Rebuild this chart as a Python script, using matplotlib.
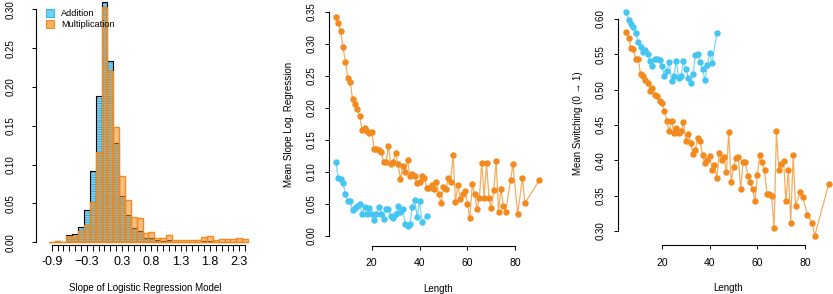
import numpy as np
import matplotlib
matplotlib.use("Agg")
import matplotlib.pyplot as plt
from matplotlib.lines import Line2D

BLUE = "#45c6f2"
ORANGE = "#f28a1e"

# histogram: slope of logistic regression model
hist_bins = [-0.9, -0.8, -0.7, -0.6, -0.5, -0.4, -0.3, -0.2, -0.1, 0.0,
             0.1, 0.2, 0.3, 0.4, 0.5, 0.6, 0.7, 0.8, 0.9, 1.0,
             1.1, 1.2, 1.3, 1.4, 1.5, 1.6, 1.7, 1.8, 1.9, 2.0,
             2.1, 2.2, 2.3, 2.4]
hist_addition = [0.001, 0.002, 0.001, 0.009, 0.011, 0.020, 0.041, 0.092, 0.189, 0.309,
                 0.233, 0.128, 0.060, 0.035, 0.018, 0.015, 0.006, 0.006, 0.003, 0.002,
                 0.003, 0.001, 0.001, 0.001, 0.001, 0.001, 0.002, 0.002, 0.001, 0.001,
                 0.001, 0.001, 0.001, 0.000]
hist_multiplication = [0.001, 0.002, 0.001, 0.008, 0.008, 0.014, 0.022, 0.052, 0.116, 0.303,
                       0.221, 0.149, 0.085, 0.054, 0.032, 0.031, 0.012, 0.013, 0.006, 0.005,
                       0.010, 0.003, 0.003, 0.003, 0.003, 0.003, 0.007, 0.008, 0.003, 0.004,
                       0.004, 0.004, 0.005, 0.004]
hist_labels = {-0.9: "-0.9", -0.3: "\u22120.3", 0.3: "0.3", 0.8: "0.8",
               1.3: "1.3", 1.8: "1.8", 2.3: "2.3"}

# lengths
len_add = list(range(5, 42)) + [43]
len_mult = list(range(5, 77)) + [78, 79, 81, 83, 84, 90]

slope_add = [0.116, 0.091, 0.089, 0.083, 0.065, 0.055, 0.055, 0.040, 0.043, 0.047,
             0.050, 0.034, 0.045, 0.034, 0.043, 0.034, 0.025, 0.034, 0.045, 0.035,
             0.027, 0.042, 0.042, 0.031, 0.028, 0.034, 0.047, 0.037, 0.042, 0.019,
             0.016, 0.019, 0.046, 0.056, 0.030, 0.054, 0.022, 0.031]
slope_mult = [0.342, 0.333, 0.320, 0.295, 0.272, 0.247, 0.240, 0.214, 0.206, 0.198,
              0.187, 0.165, 0.168, 0.164, 0.160, 0.163, 0.136, 0.135, 0.134, 0.131,
              0.115, 0.115, 0.140, 0.113, 0.116, 0.129, 0.113, 0.089, 0.109, 0.100,
              0.118, 0.093, 0.097, 0.093, 0.082, 0.085, 0.093, 0.090, 0.075, 0.075,
              0.079, 0.074, 0.085, 0.066, 0.051, 0.076, 0.073, 0.090, 0.085, 0.127,
              0.053, 0.080, 0.058, 0.065, 0.070, 0.050, 0.028, 0.081, 0.065, 0.042,
              0.060, 0.114, 0.060, 0.114, 0.060, 0.044, 0.071, 0.117, 0.038, 0.074,
              0.047, 0.038, 0.087, 0.112, 0.034, 0.091, 0.051, 0.087]

switch_add = [0.610, 0.598, 0.593, 0.588, 0.580, 0.568, 0.560, 0.553, 0.556, 0.550,
              0.540, 0.533, 0.543, 0.543, 0.542, 0.533, 0.519, 0.527, 0.539, 0.512,
              0.520, 0.541, 0.516, 0.520, 0.540, 0.529, 0.517, 0.509, 0.522, 0.549,
              0.551, 0.539, 0.529, 0.513, 0.535, 0.552, 0.538, 0.580]
switch_mult = [0.581, 0.573, 0.559, 0.558, 0.543, 0.543, 0.522, 0.520, 0.514, 0.510,
               0.498, 0.502, 0.493, 0.491, 0.484, 0.481, 0.470, 0.456, 0.441, 0.456,
               0.438, 0.446, 0.438, 0.441, 0.454, 0.428, 0.437, 0.425, 0.409, 0.415,
               0.432, 0.428, 0.407, 0.396, 0.401, 0.406, 0.387, 0.393, 0.375, 0.410,
               0.400, 0.404, 0.383, 0.440, 0.370, 0.390, 0.403, 0.405, 0.360, 0.397,
               0.398, 0.378, 0.370, 0.359, 0.343, 0.379, 0.407, 0.398, 0.386, 0.353,
               0.352, 0.350, 0.304, 0.441, 0.386, 0.395, 0.399, 0.342, 0.386, 0.312,
               0.408, 0.336, 0.355, 0.348, 0.323, 0.311, 0.293, 0.367]

plt.rcParams["font.family"] = ["Liberation Sans", "DejaVu Sans"]
plt.rcParams["hatch.linewidth"] = 0.6

W, H = 833, 294
fig = plt.figure(figsize=(W / 100, H / 100), dpi=100)


def px_axes(left, top, right, bottom):
    return fig.add_axes([left / W, 1 - bottom / H, (right - left) / W, (bottom - top) / H])


def r_style(ax, xb, yb):
    for s in ("top", "right"):
        ax.spines[s].set_visible(False)
    ax.spines["left"].set_bounds(*yb)
    ax.spines["bottom"].set_bounds(*xb)
    for s in ("left", "bottom"):
        ax.spines[s].set_linewidth(0.8)
    ax.tick_params(length=3, width=0.7)
    ax.patch.set_visible(False)


# ---- histogram ----
ax1 = px_axes(36, 0, 255, 245)
ax1.set_xlim(-1.168, 2.569)
ax1.set_ylim(-0.0035, 0.312)
ax1.bar(hist_bins, hist_addition, width=0.1, color="#86d5f4", edgecolor="#2aa3d8",
        hatch="-------", linewidth=0, zorder=2)
ax1.bar(hist_bins, hist_addition, width=0.1, fill=False, edgecolor="black",
        linewidth=0.8, zorder=3)
ax1.bar(hist_bins, hist_multiplication, width=0.1, color=ORANGE, alpha=0.55,
        linewidth=0, zorder=4)
ax1.bar(hist_bins, hist_multiplication, width=0.1, fill=False, edgecolor=ORANGE,
        linewidth=1.0, zorder=5)
r_style(ax1, (hist_bins[0], hist_bins[-1]), (0, 0.30))
ax1.set_xticks(hist_bins)
ax1.set_xticklabels([hist_labels.get(round(b, 1), "") for b in hist_bins], fontsize=9)
ax1.set_yticks(np.arange(0, 0.31, 0.05))
ax1.set_yticklabels([f"{v:.2f}" for v in np.arange(0, 0.31, 0.05)], rotation=90,
                    va="center", fontsize=7)
ax1.tick_params(axis="y", pad=12)
ax1.tick_params(axis="x", length=4, pad=4)
ax1.set_xlabel("Slope of Logistic Regression Model", fontsize=7, labelpad=11)
handles = [
    Line2D([], [], ls="", marker="s", markersize=5.5, markerfacecolor="#6ccff3",
           markeredgecolor="#3ab7e8", markeredgewidth=0.8),
    Line2D([], [], ls="", marker="s", markersize=5.5, markerfacecolor="#f8ae63",
           markeredgecolor=ORANGE, markeredgewidth=0.8),
]
ax1.legend(handles, ["Addition", "Multiplication"], loc="upper left",
           bbox_to_anchor=(0.0, 1.0), frameon=False, fontsize=6.6,
           handlelength=1.0, handletextpad=0.7, labelspacing=0.25, borderpad=0.5)

# ---- mean slope vs length ----
ax2 = px_axes(329, 3, 547, 246)
ax2.plot(len_mult, slope_mult, color=ORANGE, lw=0.9, alpha=0.7, zorder=2)
ax2.plot(len_mult, slope_mult, ls="", marker="o", ms=3.6, color=ORANGE, zorder=3)
ax2.plot(len_add, slope_add, color=BLUE, lw=0.9, alpha=0.7, zorder=2)
ax2.plot(len_add, slope_add, ls="", marker="o", ms=3.6, color=BLUE, zorder=3)
ax2.set_xlim(2.16, 93.25)
ax2.set_ylim(-0.0156, 0.3635)
r_style(ax2, (20, 80), (0, 0.35))
ax2.set_xticks([20, 40, 60, 80])
ax2.set_yticks(np.arange(0, 0.36, 0.05))
ax2.set_yticklabels([f"{v:.2f}" for v in np.arange(0, 0.36, 0.05)], rotation=90,
                    va="center", fontsize=7)
ax2.tick_params(axis="x", labelsize=7.5, pad=6)
ax2.tick_params(axis="y", pad=6)
ax2.set_xlabel("Length", fontsize=7, labelpad=11)
ax2.set_ylabel("Mean Slope Log. Regression", fontsize=7, labelpad=9)

# ---- mean switching vs length ----
ax3 = px_axes(618.3, 2, 837, 245)
ax3.plot(len_mult, switch_mult, color=ORANGE, lw=0.9, alpha=0.7, zorder=2)
ax3.plot(len_mult, switch_mult, ls="", marker="o", ms=3.6, color=ORANGE, zorder=3)
ax3.plot(len_add, switch_add, color=BLUE, lw=0.9, alpha=0.7, zorder=2)
ax3.plot(len_add, switch_add, ls="", marker="o", ms=3.6, color=BLUE, zorder=3)
ax3.set_xlim(1.66, 93.4)
ax3.set_ylim(0.2802, 0.624)
r_style(ax3, (20, 80), (0.30, 0.60))
ax3.set_xticks([20, 40, 60, 80])
ax3.set_yticks(np.arange(0.30, 0.61, 0.05))
ax3.set_yticklabels([f"{v:.2f}" for v in np.arange(0.30, 0.61, 0.05)], rotation=90,
                    va="center", fontsize=7)
ax3.tick_params(axis="x", labelsize=7.5, pad=6)
ax3.tick_params(axis="y", pad=6)
ax3.set_xlabel("Length", fontsize=7, labelpad=11)
ax3.set_ylabel("Mean Switching (0 \u2192 1)", fontsize=7, labelpad=9)

fig.savefig("out.png", dpi=100)
